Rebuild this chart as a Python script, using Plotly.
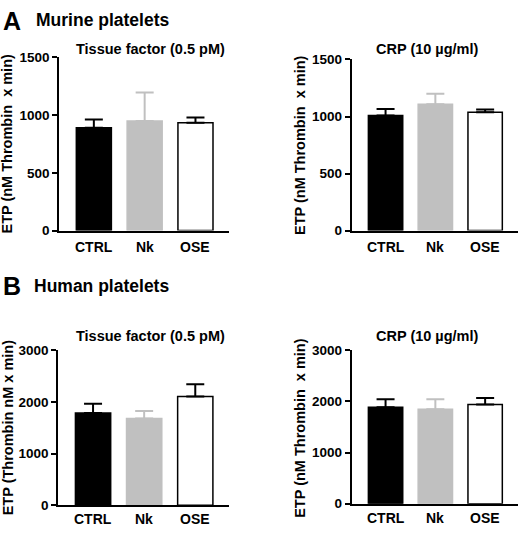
import plotly.graph_objects as go

W, H = 520, 534
categories = ["CTRL", "Nk", "OSE"]

# Panel data (mean, upper error)
murine_tf_mean = [889, 948, 933]
murine_tf_err = [72, 246, 45]
murine_crp_mean = [1008, 1108, 1037]
murine_crp_err = [57, 91, 25]
human_tf_mean = [1789, 1683, 2109]
human_tf_err = [177, 144, 234]
human_crp_mean = [1887, 1849, 1943]
human_crp_err = [157, 195, 125]

panel_titles = ["Tissue factor (0.5 pM)", "CRP (10 µg/ml)", "Tissue factor (0.5 pM)", "CRP (10 µg/ml)"]
ytitles = ["ETP (nM Thrombin  x min)", "ETP (nM Thrombin  x min)",
           "ETP (Thrombin nM x min)", "ETP (nM Thrombin  x min)"]
yticks_murine = [0, 500, 1000, 1500]
yticks_human = [0, 1000, 2000, 3000]

FONT = "Liberation Sans, Arial, sans-serif"
fill_colors = ["#000000", "#c0c0c0", "#ffffff"]
line_colors = ["#000000", "#c0c0c0", "#000000"]
err_colors = ["#000000", "#c0c0c0", "#000000"]

def px(x):
    return x / W

def py(y):
    return 1 - y / H

# (means, errs, x-domain px, y-domain px (top, bottom), ticks, ymax, category-label y px)
panels = [
    (murine_tf_mean, murine_tf_err, (59.3, 229), (51.7, 230), yticks_murine, 1500, 246.5),
    (murine_crp_mean, murine_crp_err, (351.7, 518), (54, 230), yticks_murine, 1500, 246.5),
    (human_tf_mean, human_tf_err, (58.3, 229), (353.3, 512.7), yticks_human, 3000, 527),
    (human_crp_mean, human_crp_err, (351.7, 518), (353.3, 511), yticks_human, 3000, 526),
]

fig = go.Figure()
layout = {}
ann = []

def add_text(text, x, y, size, xanchor="center", angle=0, xref="paper"):
    ann.append(dict(text=text, x=(px(x) if xref == "paper" else x), y=py(y),
                    xref=xref, yref="paper",
                    xanchor=xanchor, yanchor="middle", showarrow=False, textangle=angle,
                    font=dict(family=FONT, size=size, color="black", weight="bold")))

for i, (means, errs, xd, yd, ticks, ymax, laby) in enumerate(panels):
    n = i + 1
    xa = "x" if n == 1 else f"x{n}"
    ya = "y" if n == 1 else f"y{n}"
    for j, cat in enumerate(categories):
        fig.add_trace(go.Bar(
            x=[cat], y=[means[j]], xaxis=xa, yaxis=ya, width=0.69,
            marker=dict(color=fill_colors[j], line=dict(color=line_colors[j], width=1.5)),
            error_y=dict(type="data", array=[errs[j]], arrayminus=[0], symmetric=False,
                         color=err_colors[j], thickness=2, width=9),
            showlegend=False, hoverinfo="skip"))
        add_text(cat, cat, laby, 14, xref=xa)
    xkey = "xaxis" if n == 1 else f"xaxis{n}"
    ykey = "yaxis" if n == 1 else f"yaxis{n}"
    layout[xkey] = dict(domain=[px(xd[0]), px(xd[1])], anchor=ya, range=[-0.68, 2.66],
                        type="category", categoryorder="array", categoryarray=categories,
                        showline=True, linecolor="black", linewidth=2, ticks="",
                        showticklabels=False, showgrid=False, zeroline=False)
    layout[ykey] = dict(domain=[py(yd[1]), py(yd[0])], anchor=xa, range=[0, ymax],
                        tickvals=ticks, ticks="outside", ticklen=5, tickwidth=1.5,
                        tickcolor="black", showline=True, linecolor="black", linewidth=2,
                        showgrid=False, zeroline=False,
                        tickfont=dict(family=FONT, size=13.5, color="black", weight="bold"))

fig.update_layout(**layout)

add_text("A", 1, 14, 25, "left")
add_text("Murine platelets", 34, 13, 17.5, "left")
add_text("B", 1, 287, 25, "left")
add_text("Human platelets", 32, 287, 17.5, "left")
title_pos = [(150, 43), (427, 43), (150, 339), (427, 339)]
for t, (x, y) in zip(panel_titles, title_pos):
    add_text(t, x, y, 14.5)
ytitle_pos = [(7.5, 141), (300, 142), (7.5, 433), (300, 433)]
for t, (x, y) in zip(ytitles, ytitle_pos):
    add_text(t, x, y, 14.5, angle=-90)

fig.update_layout(annotations=ann, width=W, height=H, barmode="overlay",
                  margin=dict(l=0, r=0, t=0, b=0),
                  paper_bgcolor="white", plot_bgcolor="white")

fig.write_html("out.html", config={"displayModeBar": False},
               post_script="document.body.style.margin='0px';document.body.style.overflow='hidden';")
